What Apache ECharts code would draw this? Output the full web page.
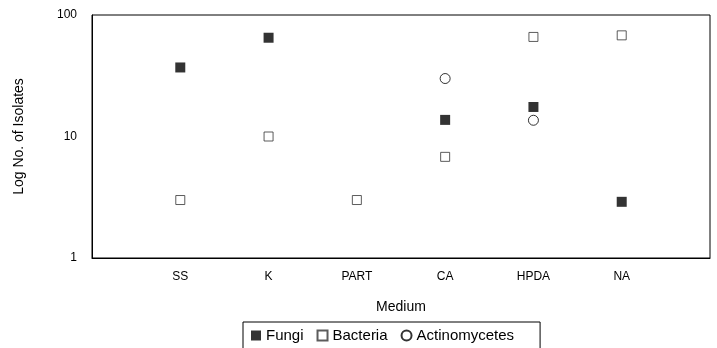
<!DOCTYPE html>
<html>
<head>
<meta charset="utf-8">
<script src="https://cdn.jsdelivr.net/npm/echarts@6/dist/echarts.min.js"></script>
<style>
  html, body { margin: 0; padding: 0; background: #fff; }
  #chart { width: 717px; height: 348px; }
</style>
</head>
<body>
<div id="chart"></div>
<script>
// media, with blank slots at both ends so the points sit away from the frame
const media = ['SS', 'K', 'PART', 'CA', 'HPDA', 'NA'];
const fungi = [37, 65, null, 13.7, 17.5, 2.9];
const bacteria = [3, 10, 3, 6.8, 66, 68];
const actinomycetes = [null, null, null, 30, 13.6, null];
const yTicks = [1, 10, 100];

const categories = [''].concat(media, ['']);

function toPoints(values) {
    let pts = [];
    values.forEach((v, i) => {
        if (v != null) pts.push([media[i], v]);
    });
    return pts;
}

const font = 'Liberation Sans, Arial, sans-serif';
let chart = echarts.init(document.getElementById('chart'));
chart.setOption({
    animation: false,
    textStyle: { fontFamily: font, color: '#000' },
    grid: {
        left: 92,
        right: 7,
        top: 15,
        bottom: 90,
        show: true,
        borderColor: '#000',
        borderWidth: 1
    },
    legend: {
        left: 243,
        top: 322,
        orient: 'horizontal',
        borderColor: '#000',
        borderWidth: 1,
        padding: [6, 26, 10, 8],
        itemGap: 13,
        itemWidth: 10,
        itemHeight: 10,
        textStyle: { fontSize: 15, color: '#000', fontFamily: font },
        data: ['Fungi', 'Bacteria', 'Actinomycetes']
    },
    xAxis: {
        type: 'category',
        data: categories,
        boundaryGap: false,
        name: 'Medium',
        nameLocation: 'middle',
        nameGap: 42,
        nameTextStyle: { fontSize: 14, color: '#000' },
        axisLine: { lineStyle: { color: '#000', width: 1 } },
        axisTick: { show: false },
        axisLabel: { fontSize: 12, color: '#000', margin: 13, interval: 0 },
        splitLine: { show: false }
    },
    yAxis: {
        type: 'log',
        logBase: 10,
        min: 1,
        max: 100,
        name: 'Log No. of Isolates',
        nameLocation: 'middle',
        nameGap: 66,
        nameRotate: 90,
        nameTextStyle: { fontSize: 14, color: '#000' },
        axisLine: { show: true, lineStyle: { color: '#000', width: 1 } },
        axisTick: { show: false },
        axisLabel: {
            fontSize: 12,
            color: '#000',
            margin: 15,
            formatter: v => (yTicks.indexOf(Math.round(v)) >= 0 ? String(Math.round(v)) : '')
        },
        splitLine: { show: false }
    },
    series: [
        {
            name: 'Fungi',
            type: 'scatter',
            symbol: 'rect',
            symbolSize: 10,
            itemStyle: { color: '#000' },
            data: toPoints(fungi)
        },
        {
            name: 'Bacteria',
            type: 'scatter',
            symbol: 'rect',
            symbolSize: 9,
            itemStyle: { color: '#fff', borderColor: '#333', borderWidth: 1 },
            data: toPoints(bacteria)
        },
        {
            name: 'Actinomycetes',
            type: 'scatter',
            symbol: 'circle',
            symbolSize: 10,
            itemStyle: { color: '#fff', borderColor: '#000', borderWidth: 1 },
            data: toPoints(actinomycetes)
        }
    ]
});
</script>
</body>
</html>
